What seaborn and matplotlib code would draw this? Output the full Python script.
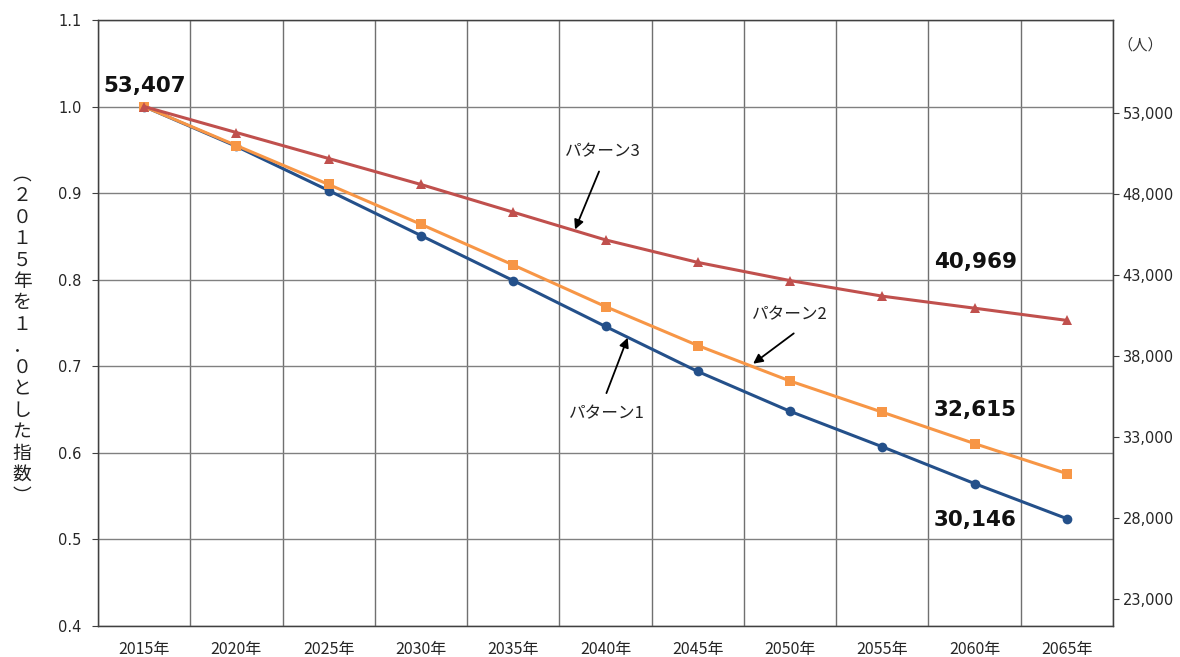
import matplotlib
matplotlib.use("Agg")
import matplotlib.pyplot as plt
import matplotlib.ticker as mticker
import numpy as np
import pandas as pd
import seaborn as sns

# ---- data ----
years = ["2015年", "2020年", "2025年", "2030年", "2035年", "2040年",
         "2045年", "2050年", "2055年", "2060年", "2065年"]
pattern1 = [1.000, 0.954, 0.903, 0.851, 0.799, 0.746, 0.694, 0.648, 0.607, 0.5645, 0.524]
pattern2 = [1.000, 0.955, 0.910, 0.864, 0.817, 0.769, 0.724, 0.683, 0.647, 0.6107, 0.576]
pattern3 = [1.000, 0.970, 0.940, 0.910, 0.878, 0.846, 0.820, 0.799, 0.781, 0.7671, 0.753]
base_pop = 53407
label_values = ["53,407", "40,969", "32,615", "30,146"]
series_names = ["パターン1", "パターン2", "パターン3"]
left_ticks = [0.4, 0.5, 0.6, 0.7, 0.8, 0.9, 1.0, 1.1]
right_ticks = [23000, 28000, 33000, 38000, 43000, 48000, 53000]

sns.set_style("white")
plt.rcParams['font.family'] = ['Noto Sans CJK JP', 'DejaVu Sans']

fig = plt.figure(figsize=(11.8, 6.57), dpi=100)
ax = fig.add_axes([98/1180, 1-626/657, (1113-98)/1180, (626-20)/657])

xs = np.arange(len(years))
colors = {"パターン1": "#24508A", "パターン2": "#F79646", "パターン3": "#C0504D"}
markers = {"パターン1": "o", "パターン2": "s", "パターン3": "^"}
vals = {"パターン1": pattern1, "パターン2": pattern2, "パターン3": pattern3}
for name in ["パターン1", "パターン2", "パターン3"]:
    df = pd.DataFrame({"x": xs, "y": vals[name]})
    sns.lineplot(data=df, x="x", y="y", ax=ax, color=colors[name],
                 marker=markers[name], markersize=7, markeredgewidth=0,
                 linewidth=2.2, legend=False, zorder=3)

ax.set_xlim(-0.5, len(years) - 0.5)
ax.set_ylim(0.4, 1.1)
ax.set_yticks(left_ticks)
ax.yaxis.set_major_formatter(mticker.FormatStrFormatter('%.1f'))
ax.set_xticks(xs)
ax.set_xticklabels(years, fontsize=11.5)
ax.set_xticks(np.arange(-0.5, len(years), 1.0), minor=True)
ax.set_xlabel("")
ax.set_ylabel("")
ax.grid(False)
for v in left_ticks:
    ax.axhline(v, color="#808080", linewidth=1.0, zorder=1)
ax.grid(True, which="minor", axis="x", color="#707070", linewidth=1.0, zorder=1)
ax.tick_params(axis="x", which="both", length=0, pad=11)
ax.tick_params(axis="y", which="major", length=4, direction="out", pad=8,
               labelsize=10.5, left=True, color="#404040")
for lab in ax.get_yticklabels():
    lab.set_family("DejaVu Sans")
for side in ["left", "bottom", "right", "top"]:
    ax.spines[side].set_color("#404040")
    ax.spines[side].set_linewidth(1.0)

ax2 = ax.twinx()
ax2.set_ylim(0.4 * base_pop, 1.1 * base_pop)
ax2.set_yticks(right_ticks)
ax2.yaxis.set_major_formatter(mticker.FuncFormatter(lambda v, p: f"{int(v):,}"))
ax2.tick_params(axis="y", length=4, direction="out", pad=3, labelsize=10.5, color="#404040")
for lab in ax2.get_yticklabels():
    lab.set_family("DejaVu Sans")
ax2.grid(False)
for side in ["left", "bottom", "right", "top"]:
    ax2.spines[side].set_color("#404040")

# data labels
lab_font = dict(fontsize=15.5, fontweight="bold", family="DejaVu Sans", ha="center", va="center", color="#111111")
ax.text(0.01, 1.024, label_values[0], **lab_font)
ax.text(9.01, 0.821, label_values[1], **lab_font)
ax.text(9.01, 0.650, label_values[2], **lab_font)
ax.text(9.01, 0.523, label_values[3], **lab_font)

# annotations
arrow = dict(arrowstyle="-|>", color="black", lw=1.3, mutation_scale=14, shrinkA=0, shrinkB=0)
ax.text(4.97, 0.948, series_names[2], fontsize=12, ha="center", va="center", color="#222222")
ax.annotate("", xy=(4.67, 0.858), xytext=(4.93, 0.925), arrowprops=arrow)
ax.text(7.0, 0.759, series_names[1], fontsize=12, ha="center", va="center", color="#222222")
ax.annotate("", xy=(6.60, 0.703), xytext=(7.04, 0.738), arrowprops=arrow)
ax.text(5.02, 0.645, series_names[0], fontsize=12, ha="center", va="center", color="#222222")
ax.annotate("", xy=(5.24, 0.733), xytext=(5.01, 0.669), arrowprops=arrow)

# axis titles
ylab = "︵２０１５年を１．０とした指数︶"
fig.text(22/1180, 1-335/657, "\n".join(ylab), fontsize=13.5, ha="center", va="center",
         linespacing=1.03, color="#222222")
fig.text(1140/1180, 1-45/657, "（人）", fontsize=11, ha="center", va="center", color="#333333")

fig.savefig("out.png", dpi=100)
